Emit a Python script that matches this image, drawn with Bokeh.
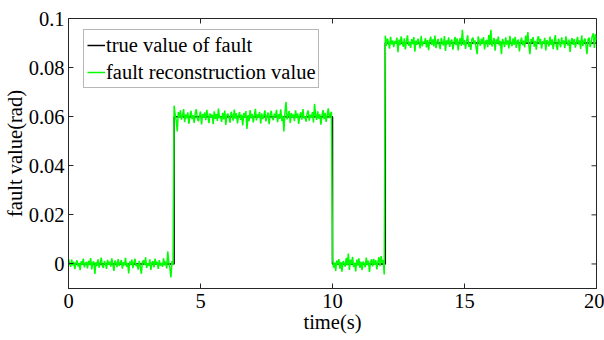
import numpy as np
from bokeh.plotting import figure
from bokeh.models import FixedTicker, Range1d, Legend, LegendItem
from bokeh.embed import file_html
from bokeh.resources import INLINE

# ---- data ----
true_t = [0, 4, 4, 10, 10, 12, 12, 20]
true_v = [0, 0, 0.06, 0.06, 0, 0, 0.09, 0.09]

sample_step = 0.04
seg_starts = [0.0, 4.0, 10.0, 12.0]
seg_levels = [0.0, 0.06, 0.0, 0.09]

# reconstruction deviations from the true value, in units of 1e-3 rad
noise_seg1 = [2.0, 0.5, -1.2, 1.8, -0.6, 0.9, -2.1, 0.3, 1.5, -1.0,
              0.4, -2.5, 1.1, -0.3, 2.2, -1.4, 0.2, 0.8, -1.8, 1.3,
              -0.5, 2.4, -2.2, 0.6, 1.0, -4.1, 0.7, -0.9, 1.9, -1.5,
              0.3, 2.6, -0.7, -1.6, 1.2, 0.1, -2.0, 1.7, -0.4, 0.9,
              -1.1, 2.3, -0.2, -2.8, 1.4, 0.5, -1.3, 2.0, -0.8, 0.2,
              1.6, -1.9, 0.7, -0.6, 2.5, -1.2, 0.4, -3.9, 1.0, -0.3,
              1.8, -1.7, 0.6, 2.1, -0.9, 0.0, -2.3, 1.3, -1.0, -4.0,
              0.8, 1.5, -0.5, 2.7, -1.6, 0.3, -0.8, 1.9, -2.4, 0.5,
              1.1, -1.4, 2.2, -0.3, 0.9, -2.0, 1.6, -0.7, 0.4, -1.2,
              2.3, -0.6, 1.0, -1.8, 5.1, 0.7, -1.5, -5.5, 1.2, -0.4]
noise_seg2 = [4.5, 0.8, -1.5, -6.0, 1.9, -0.4, 2.6, -1.2, 0.5, 3.1,
              -2.2, 0.9, -0.7, 1.8, -2.9, 0.3, 2.4, -1.0, 0.6, -2.5,
              1.4, 3.0, -0.8, -1.9, 0.2, 2.1, -3.2, 1.1, -0.5, 1.7,
              -1.4, 2.8, 0.4, -2.6, 1.3, -0.2, 0.9, -3.0, 2.2, -0.9,
              1.0, -1.7, 3.3, -0.6, 0.1, -2.1, 1.6, -1.1, 2.5, -3.4,
              0.7, 1.2, -0.3, -2.4, 2.0, 0.5, -1.6, 2.9, -0.8, 1.4,
              -2.7, 0.2, 1.9, -1.3, 0.8, -3.6, 1.5, -0.4, 2.3, -5.0,
              0.6, -1.8, 2.7, -0.7, 1.1, -2.3, 0.4, 3.2, -1.5, 0.9,
              -0.2, 2.0, -2.8, 1.3, -1.0, 0.5, 2.6, -1.9, 0.3, 1.7,
              -3.1, 0.8, 2.4, -0.6, -1.4, 1.2, 0.0, 2.8, -2.2, 1.0,
              -0.9, 3.0, -1.7, 0.4, -6.0, 2.1, 6.0, -1.1, 0.7, 2.3,
              -2.5, 1.5, -0.3, 0.9, -1.8, 2.6, -0.5, 1.3, -2.9, 0.6,
              1.8, -1.2, 3.1, -0.7, 0.2, -2.0, 1.4, 2.5, -1.6, 0.8,
              -0.4, 1.9, -2.4, 5.2, 0.5, -1.3, 2.2, -0.8, 1.0, -3.3,
              0.3, 2.7, -1.0, 1.6, -2.1, 0.7, 3.4, -0.6, 1.2, 2.0]
noise_seg3 = [2.2, -1.5, 0.6, -2.8, 1.4, -0.3, 2.0, -1.9, 0.8, -3.1,
              1.2, 0.3, -1.1, 2.5, -0.6, 4.2, -2.4, 1.7, -0.2, 2.9,
              -1.3, 0.5, -3.0, 1.8, -0.7, 2.3, -1.6, 0.9, -2.5, 1.0,
              0.2, -1.4, 2.6, -0.5, 1.3, -3.3, 0.7, 1.9, -1.0, 2.1,
              -0.4, 1.5, -2.2, 0.8, 2.8, -0.9, 3.2, 0.4, 1.6, -4.3]
noise_seg4 = [3.0, -1.2, 1.8, 0.4, -2.3, 2.5, -0.6, 1.1, -1.7, 0.8,
              -0.3, 2.2, -3.7, 1.4, -0.9, 2.7, 0.2, -1.5, 1.9, -2.6,
              0.7, 3.1, -1.1, 0.5, -2.0, 1.6, -0.4, 2.4, -3.5, 1.0,
              -0.7, 1.8, 0.3, -2.2, 2.9, -1.3, 0.6, -0.1, 2.0, -1.8,
              1.2, -2.9, 0.9, 2.6, -0.8, 1.5, -1.4, 3.0, -2.1, 0.4,
              1.7, -0.6, -2.5, 2.1, 0.3, -1.0, 2.8, -3.2, 1.1, -0.5,
              2.3, -1.6, 0.8, 1.4, -2.7, 0.1, 2.5, -0.9, 1.9, -3.0,
              0.6, 2.0, -1.2, 5.4, -0.7, 1.3, -2.4, 0.9, 3.1, -1.5,
              0.2, -2.8, 1.6, 2.2, -0.4, 1.0, -1.9, -4.5, 2.7, 0.5,
              -1.1, 1.8, -0.3, 2.4, -2.6, 0.7, 1.2, -1.7, 3.3, -0.8,
              5.4, -1.4, 0.4, 2.1, -3.1, 1.5, -0.2, 2.6, -1.0, 0.9,
              -4.5, 1.7, 0.3, -1.6, 2.3, -0.6, 1.1, -2.2, 2.9, 0.0,
              -1.3, 1.9, -0.7, 2.5, -2.0, 0.8, 1.4, -3.4, 0.6, 2.2,
              -0.9, 1.0, -1.8, 3.0, 0.2, 4.5, -1.2, -4.5, 1.6, 0.4,
              2.4, -1.5, 0.9, -2.7, 1.3, 2.8, -0.5, 1.7, -2.3, 0.7,
              -0.2, 2.1, -3.0, 1.2, 0.5, -1.4, 2.6, -0.8, 1.5, -2.5,
              0.8, 3.2, -1.1, -2.9, 1.8, 0.1, -1.7, 2.3, -0.4, 1.0,
              -2.1, 2.7, 0.6, -1.0, 1.4, -3.6, 0.9, 2.0, -0.7, 1.6,
              -1.9, 0.3, 2.5, -0.6, 1.1, -2.4, 3.1, -1.2, 0.7, 1.9,
              -0.8, -4.5, 1.5, 2.2, -1.6, 0.4, 2.9, 4.0, -2.0, 3.6,
              1.2]

x_ticks = [0, 5, 10, 15, 20]
y_ticks = [0, 0.02, 0.04, 0.06, 0.08, 0.1]
y_tick_labels = ["0", "0.02", "0.04", "0.06", "0.08", "0.1"]
x_min, x_max = 0, 20
y_min, y_max = -0.01, 0.1

# ---- build reconstruction series ----
rec_t, rec_v = [], []
for start, level, noise in zip(seg_starts, seg_levels,
                               [noise_seg1, noise_seg2, noise_seg3, noise_seg4]):
    for i, n in enumerate(noise):
        rec_t.append(start + i * sample_step)
        rec_v.append(level + n * 1e-3)

FONT = "Liberation Serif"
FS = "20.5px"
LFS = "20.5px"
AX = "#262626"

p = figure(width=604, height=340, output_backend="svg", toolbar_location=None,
           x_range=Range1d(x_min, x_max), y_range=Range1d(y_min, y_max),
           min_border_left=67, min_border_right=8, min_border_top=18,
           min_border_bottom=52)
p.xgrid.visible = False
p.ygrid.visible = False
p.outline_line_color = AX
p.outline_line_width = 1
p.background_fill_color = "white"
p.border_fill_color = "white"

r_true = p.line(true_t, true_v, line_color="black", line_width=1.5)
r_rec = p.line(rec_t, rec_v, line_color="#00ff00", line_width=1.5)

# inward ticks on the top and right edges of the box
p.ray(x=x_ticks, y=[y_max] * len(x_ticks), length=5, angle=-np.pi / 2,
      length_units="screen", line_color=AX, line_width=1)
p.ray(x=[x_max] * len(y_ticks), y=y_ticks, length=5, angle=np.pi,
      length_units="screen", line_color=AX, line_width=1)

def style_axis(ax):
    ax.major_tick_in = 5
    ax.major_tick_out = 0
    ax.minor_tick_in = 0
    ax.minor_tick_out = 0
    ax.axis_line_color = AX
    ax.major_tick_line_color = AX
    ax.major_label_text_font = FONT
    ax.major_label_text_font_size = FS
    ax.major_label_text_color = "black"
    ax.axis_label_text_font = FONT
    ax.axis_label_text_font_style = "normal"
    ax.axis_label_text_font_size = FS
    ax.axis_label_text_color = "black"

xa = p.xaxis[0]
xa.ticker = FixedTicker(ticks=x_ticks)
xa.axis_label = "time(s)"
style_axis(xa)
xa.major_label_standoff = 5
xa.axis_label_standoff = 0

ya = p.yaxis[0]
ya.ticker = FixedTicker(ticks=y_ticks)
ya.major_label_overrides = {t: l for t, l in zip(y_ticks, y_tick_labels)}
ya.axis_label = "fault value(rad)"
style_axis(ya)
ya.major_label_standoff = 4
ya.axis_label_standoff = 0

legend = Legend(items=[LegendItem(label="true value of fault", renderers=[r_true]),
                       LegendItem(label="fault reconstruction value", renderers=[r_rec])],
                location=(15, 200))
legend.label_text_font = FONT
legend.label_text_font_size = LFS
legend.label_text_color = "black"
legend.glyph_width = 18
legend.glyph_height = 24
legend.label_height = 24
legend.label_standoff = 1
legend.spacing = 3
legend.padding = 3
legend.margin = 0
legend.border_line_color = "#6f6f6f"
legend.border_line_width = 1
legend.background_fill_color = "white"
legend.background_fill_alpha = 1
p.add_layout(legend)

open("out.html", "w").write(file_html(p, INLINE))
